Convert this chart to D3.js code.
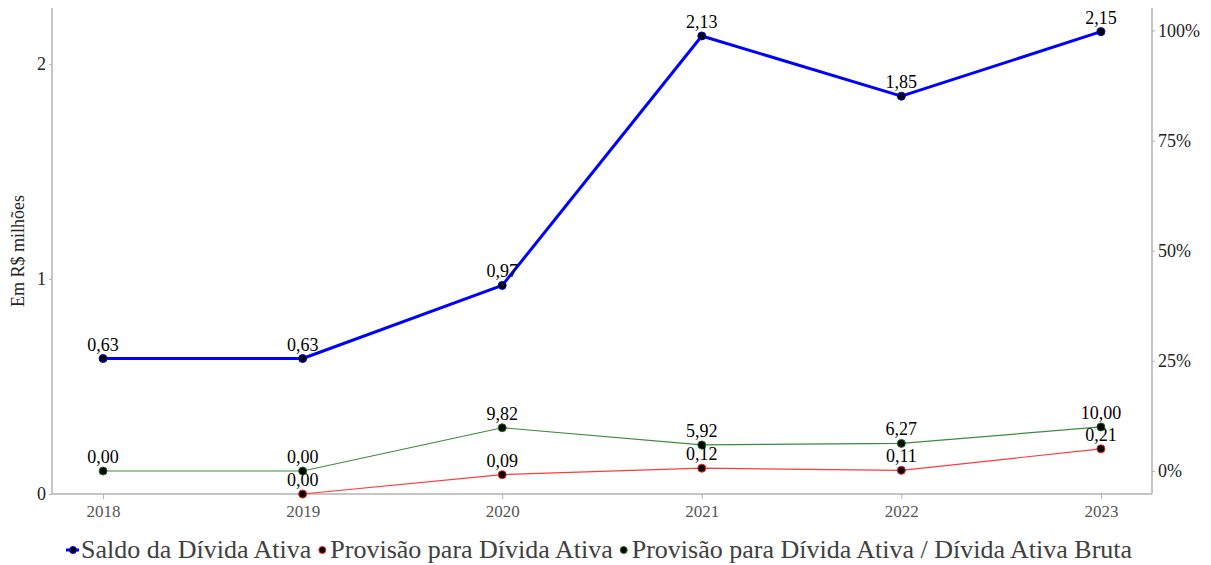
<!DOCTYPE html>
<html><head><meta charset="utf-8">
<script src="https://cdn.jsdelivr.net/npm/d3@7"></script>
<style>body{margin:0;background:#fff}svg, svg text{font-family:"Liberation Serif","Times New Roman",Tinos,"DejaVu Serif",serif !important}</style>
</head><body><svg id="c" width="1211" height="565"></svg>
<script>
const years = ["2018","2019","2020","2021","2022","2023"];
const saldo = [0.63, 0.63, 0.97, 2.13, 1.85, 2.15];
const provisao = [null, 0.00, 0.09, 0.12, 0.11, 0.21];
const razao = [0.00, 0.00, 9.82, 5.92, 6.27, 10.00];
const leftTicks = [0, 1, 2];
const rightTicks = [0, 25, 50, 75, 100];
const seriesNames = ["Saldo da Dívida Ativa", "Provisão para Dívida Ativa", "Provisão para Dívida Ativa / Dívida Ativa Bruta"];

const svg = d3.select("#c");
const L = 52, R = 1152, T = 8, B = 494;
const x = d3.scalePoint().domain(years).range([L, R]).padding(0.256);
const yL = d3.scaleLinear().domain([0, 2.26]).range([B, T]);
const yR = d3.scaleLinear().domain([-5.22, 105.1]).range([B, T]);
const fmt = v => d3.format(".2f")(v).replace(".", ",");
const axisCol = "#b3b3b3";

// axes
const gx = svg.append("g").attr("transform", `translate(0,${B})`)
  .call(d3.axisBottom(x).tickSize(5).tickPadding(6));
gx.select(".domain").attr("stroke", axisCol).attr("stroke-width", 1.5).attr("d", `M${L},0H${R}`);
gx.selectAll(".tick line").attr("stroke", axisCol);
gx.selectAll(".tick text").attr("font-size", 17).attr("fill", "#555");

const gl = svg.append("g").attr("transform", `translate(${L},0)`)
  .call(d3.axisLeft(yL).tickValues(leftTicks).tickSize(3).tickPadding(3).tickFormat(d => d));
gl.select(".domain").attr("stroke", axisCol).attr("stroke-width", 1.5).attr("d", `M0,${B}V${T}`);
gl.selectAll(".tick line").attr("stroke", axisCol);
gl.selectAll(".tick text").attr("font-size", 18).attr("fill", "#222");

const gr = svg.append("g").attr("transform", `translate(${R},0)`)
  .call(d3.axisRight(yR).tickValues(rightTicks).tickSize(3).tickPadding(3).tickFormat(d => d + "%"));
gr.select(".domain").attr("stroke", axisCol).attr("stroke-width", 1.5).attr("d", `M0,${B}V${T}`);
gr.selectAll(".tick line").attr("stroke", axisCol);
gr.selectAll(".tick text").attr("font-size", 18).attr("fill", "#222");

svg.append("text").attr("transform", `translate(24,${(T + B) / 2}) rotate(-90)`)
  .attr("text-anchor", "middle").attr("font-size", 18).attr("fill", "#222").text("Em R$ milhões");

function drawSeries(vals, yScale, color, width) {
  const pts = years.map((yr, i) => ({yr, v: vals[i]})).filter(d => d.v !== null);
  const line = d3.line().x(d => x(d.yr)).y(d => yScale(d.v));
  svg.append("path").datum(pts).attr("d", line).attr("fill", "none")
    .attr("stroke", color).attr("stroke-width", width).attr("stroke-linejoin", "round");
  return pts;
}
function drawMarks(pts, yScale, color, r) {
  svg.append("g").selectAll("circle").data(pts).join("circle")
    .attr("cx", d => x(d.yr)).attr("cy", d => yScale(d.v)).attr("r", r)
    .attr("fill", "#000").attr("stroke", color).attr("stroke-width", 1);
  svg.append("g").selectAll("text").data(pts).join("text")
    .attr("x", d => x(d.yr)).attr("y", d => yScale(d.v) - 8)
    .attr("text-anchor", "middle").attr("font-size", 18).attr("fill", "#000")
    .text(d => fmt(d.v));
}
const pG = drawSeries(razao, yR, "#3c8c3c", 1.2);
const pR = drawSeries(provisao, yL, "#ff3b3b", 1.2);
const pB = drawSeries(saldo, yL, "#0000ff", 3);
drawMarks(pG, yR, "#1a7a1a", 4);
drawMarks(pR, yL, "#ff2020", 4);
drawMarks(pB, yL, "#0000ff", 4);

// legend
const legCols = ["#0000ff", "#ff2020", "#1a7a1a"];
const lg = svg.append("g");
let cur = 66;
seriesNames.forEach((n, i) => {
  if (i === 0) lg.append("line").attr("x1", cur).attr("x2", cur + 13).attr("y1", 550).attr("y2", 550)
    .attr("stroke", legCols[i]).attr("stroke-width", 3);
  const cx = i === 0 ? cur + 7 : cur + 4;
  lg.append("circle").attr("cx", cx).attr("cy", 550).attr("r", 3.5).attr("fill", "#000")
    .attr("stroke", legCols[i]).attr("stroke-width", 1);
  const t = lg.append("text").attr("x", cx + 8).attr("y", 558)
    .attr("font-size", 26).attr("fill", "#404040").text(n);
  cur = cx + 8 + t.node().getComputedTextLength() + 7;
});
</script></body></html>
